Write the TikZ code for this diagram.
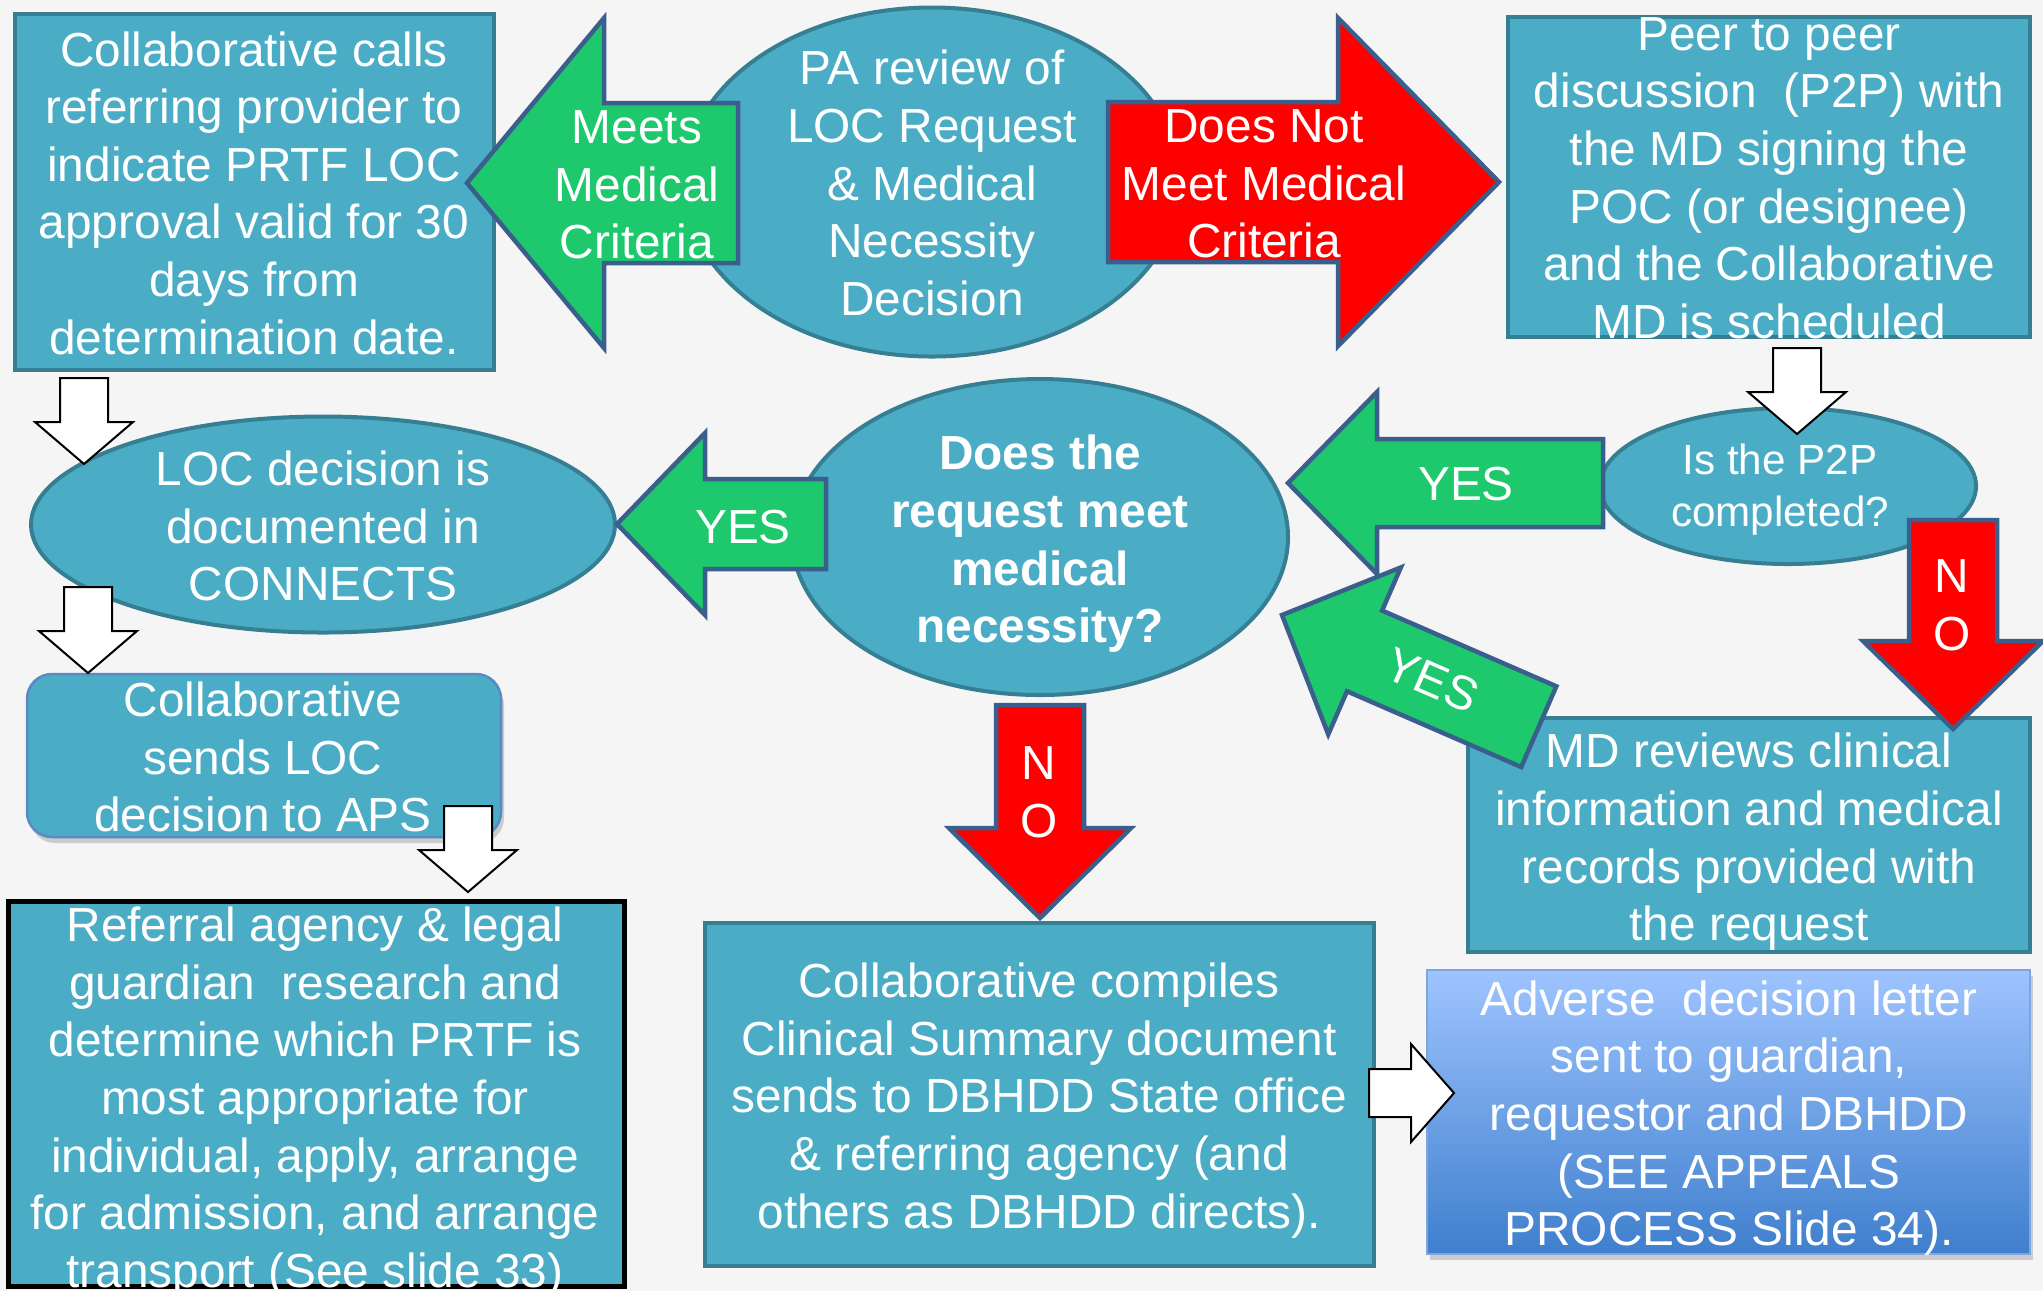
\documentclass[tikz,border=0pt]{standalone}
\usepackage{fontspec}
\setmainfont{Liberation Sans}
\usetikzlibrary{shapes.geometric,shadows}
\definecolor{slide}{HTML}{F5F5F5}
\definecolor{aqua}{HTML}{4BACC6}
\definecolor{aquadk}{HTML}{367F93}
\definecolor{leaf}{HTML}{1EC86C}
\definecolor{alarm}{HTML}{FF0000}
\definecolor{rim}{HTML}{3A5F8D}
\definecolor{skytop}{HTML}{9EC4FF}
\definecolor{skybot}{HTML}{3F7FCD}
\definecolor{skyrim}{HTML}{7EA6DC}
\definecolor{apsrim}{HTML}{5A8AC6}
\newcommand{\slidefont}{\fontsize{13.6}{16.4}\selectfont}
\newcommand{\smallslidefont}{\fontsize{12}{14.8}\selectfont}
% block arrow: tip at the origin, body along +x; length/head length/head half width/shaft half width
\tikzset{
  pics/blockarrow/.style args={#1/#2/#3/#4}{code={
    \path[pic actions] (0,0) -- (#2,#3) -- (#2,#4) -- (#1,#4) -- (#1,-#4) -- (#2,-#4) -- (#2,-#3) -- cycle;}}
}

\begin{document}
\begin{tikzpicture}[
    x=0.1mm, y=-0.1mm,
    tealbox/.style={draw=aquadk, fill=aqua, line width=0.4mm, inner sep=0pt},
    oval/.style={tealbox, ellipse},
    txt/.style={text=white, align=center, font=\slidefont, inner sep=0pt},
    garrow/.style={draw=rim, fill=leaf, line width=0.45mm},
    rarrow/.style={draw=rim, fill=alarm, line width=0.45mm},
    warrow/.style={draw=black, fill=white, line width=0.2mm},
    shade/.style={drop shadow={shadow xshift=0.3mm, shadow yshift=-0.6mm, opacity=0.35}}]
  \fill[slide] (0,0) rectangle (2043,1291);
  \useasboundingbox (0,0) rectangle (2043,1291);
  % top row
  \node[tealbox, minimum width=47.9mm, minimum height=35.6mm] (calls) at (254.5,192) {};
  \node[txt] (callsText) at (254,193) {Collaborative calls\\referring provider to\\indicate PRTF LOC\\approval valid for 30\\days from\\determination date.};
  \node[oval, minimum width=49.6mm, minimum height=34.9mm] (review) at (932,182) {};
  \node[txt] (reviewText) at (932,183) {PA review of\\LOC Request\\\& Medical\\Necessity\\Decision};
  \node[tealbox, minimum width=52.2mm, minimum height=32mm] (peer) at (1769,177) {};
  \node[txt] (peerText) at (1769,178) {Peer to peer\\discussion~ (P2P) with\\the MD signing the\\POC (or designee)\\and the Collaborative\\MD is scheduled};
  % middle row
  \node[oval, minimum width=37.6mm, minimum height=15.6mm] (done) at (1788,486) {};
  \node[txt, font=\smallslidefont] (doneText) at (1780,490) {Is the P2P\\completed?};
  \node[oval, minimum width=49.6mm, minimum height=31.6mm] (meet) at (1040,537) {};
  \node[txt, font={\slidefont\bfseries}] (meetText) at (1040,544) {Does the\\request meet\\medical\\necessity?};
  \node[oval, minimum width=58.4mm, minimum height=21.6mm] (documented) at (323,524.5) {};
  \node[txt] (documentedText) at (323,526) {LOC decision is\\documented in\\CONNECTS};
  \node[tealbox, shade, draw=apsrim, line width=0.25mm, rounded corners=2.5mm,
        minimum width=47.4mm, minimum height=16.3mm] (aps) at (264,755.5) {};
  \node[txt] (apsText) at (263,757) {Collaborative\\sends LOC\\decision to APS};
  \node[tealbox, minimum width=56.2mm, minimum height=23.4mm] (mdreview) at (1749,835) {};
  \node[txt] (mdreviewText) at (1749,842) {MD reviews clinical\\information and medical\\records provided with\\the request};
  % bottom row
  \node[tealbox, draw=black, line width=0.5mm, minimum width=61.6mm, minimum height=38.5mm] (referral) at (316,1093.5) {};
  \node[txt] (referralText) at (315,1102) {Referral agency \& legal\\guardian~ research and\\determine which PRTF is\\most appropriate for\\individual, apply, arrange\\for admission, and arrange\\transport (See slide 33)};
  \node[tealbox, minimum width=66.9mm, minimum height=34.3mm] (compiles) at (1039.5,1094.5) {};
  \node[txt] (compilesText) at (1039,1100.5) {Collaborative compiles\\Clinical Summary document\\sends to DBHDD State office\\\& referring agency (and\\others as DBHDD directs).};
  \node[shade, draw=skyrim, line width=0.2mm, top color=skytop, bottom color=skybot,
        minimum width=60.3mm, minimum height=28.4mm] (adverse) at (1728.5,1112) {};
  \node[txt] (adverseText) at (1729,1118) {Adverse~ decision letter\\sent to guardian,\\requestor and DBHDD\\(SEE APPEALS\\PROCESS Slide 34).};
  % block arrows
  \pic[garrow] at (467,183) {blockarrow=271/137/165/80};
  \pic[rarrow, rotate=180] at (1499,182) {blockarrow=391/161/164/80};
  \pic[garrow] at (617,524) {blockarrow=209/88/91/45};
  \pic[garrow] at (1288,483) {blockarrow=315/89/91/44};
  \pic[garrow, rotate=-23.5] at (1282,615) {blockarrow=280/90/91/44};
  \pic[rarrow, rotate=90] at (1040,918) {blockarrow=213/90/91/44};
  \pic[rarrow, rotate=90] at (1953,729) {blockarrow=209/88/90/44};
  \node[txt] (meetsLbl) at (637,185) {Meets\\Medical\\Criteria};
  \node[txt] (notMeetsLbl) at (1264,184) {Does Not\\Meet Medical\\Criteria};
  \node[txt] (yesLoc) at (743,527) {YES};
  \node[txt] (yesP2P) at (1466,484) {YES};
  \node[txt, rotate=-23.5] (yesReview) at (1432,680) {YES};
  \node[txt] (noCompile) at (1039,792) {N\\O};
  \node[txt] (noP2P) at (1952,605) {N\\O};
  % white step arrows
  \pic[warrow, rotate=90] at (84,464) {blockarrow=86/42/49/24};
  \pic[warrow, rotate=90] at (88,673) {blockarrow=86/42/49/24};
  \pic[warrow, rotate=90] at (468,892) {blockarrow=86/42/49/24};
  \pic[warrow, rotate=90] at (1797,434) {blockarrow=86/42/49/24};
  \pic[warrow, rotate=180] at (1454,1093) {blockarrow=85/43/49/24};
\end{tikzpicture}
\end{document}
